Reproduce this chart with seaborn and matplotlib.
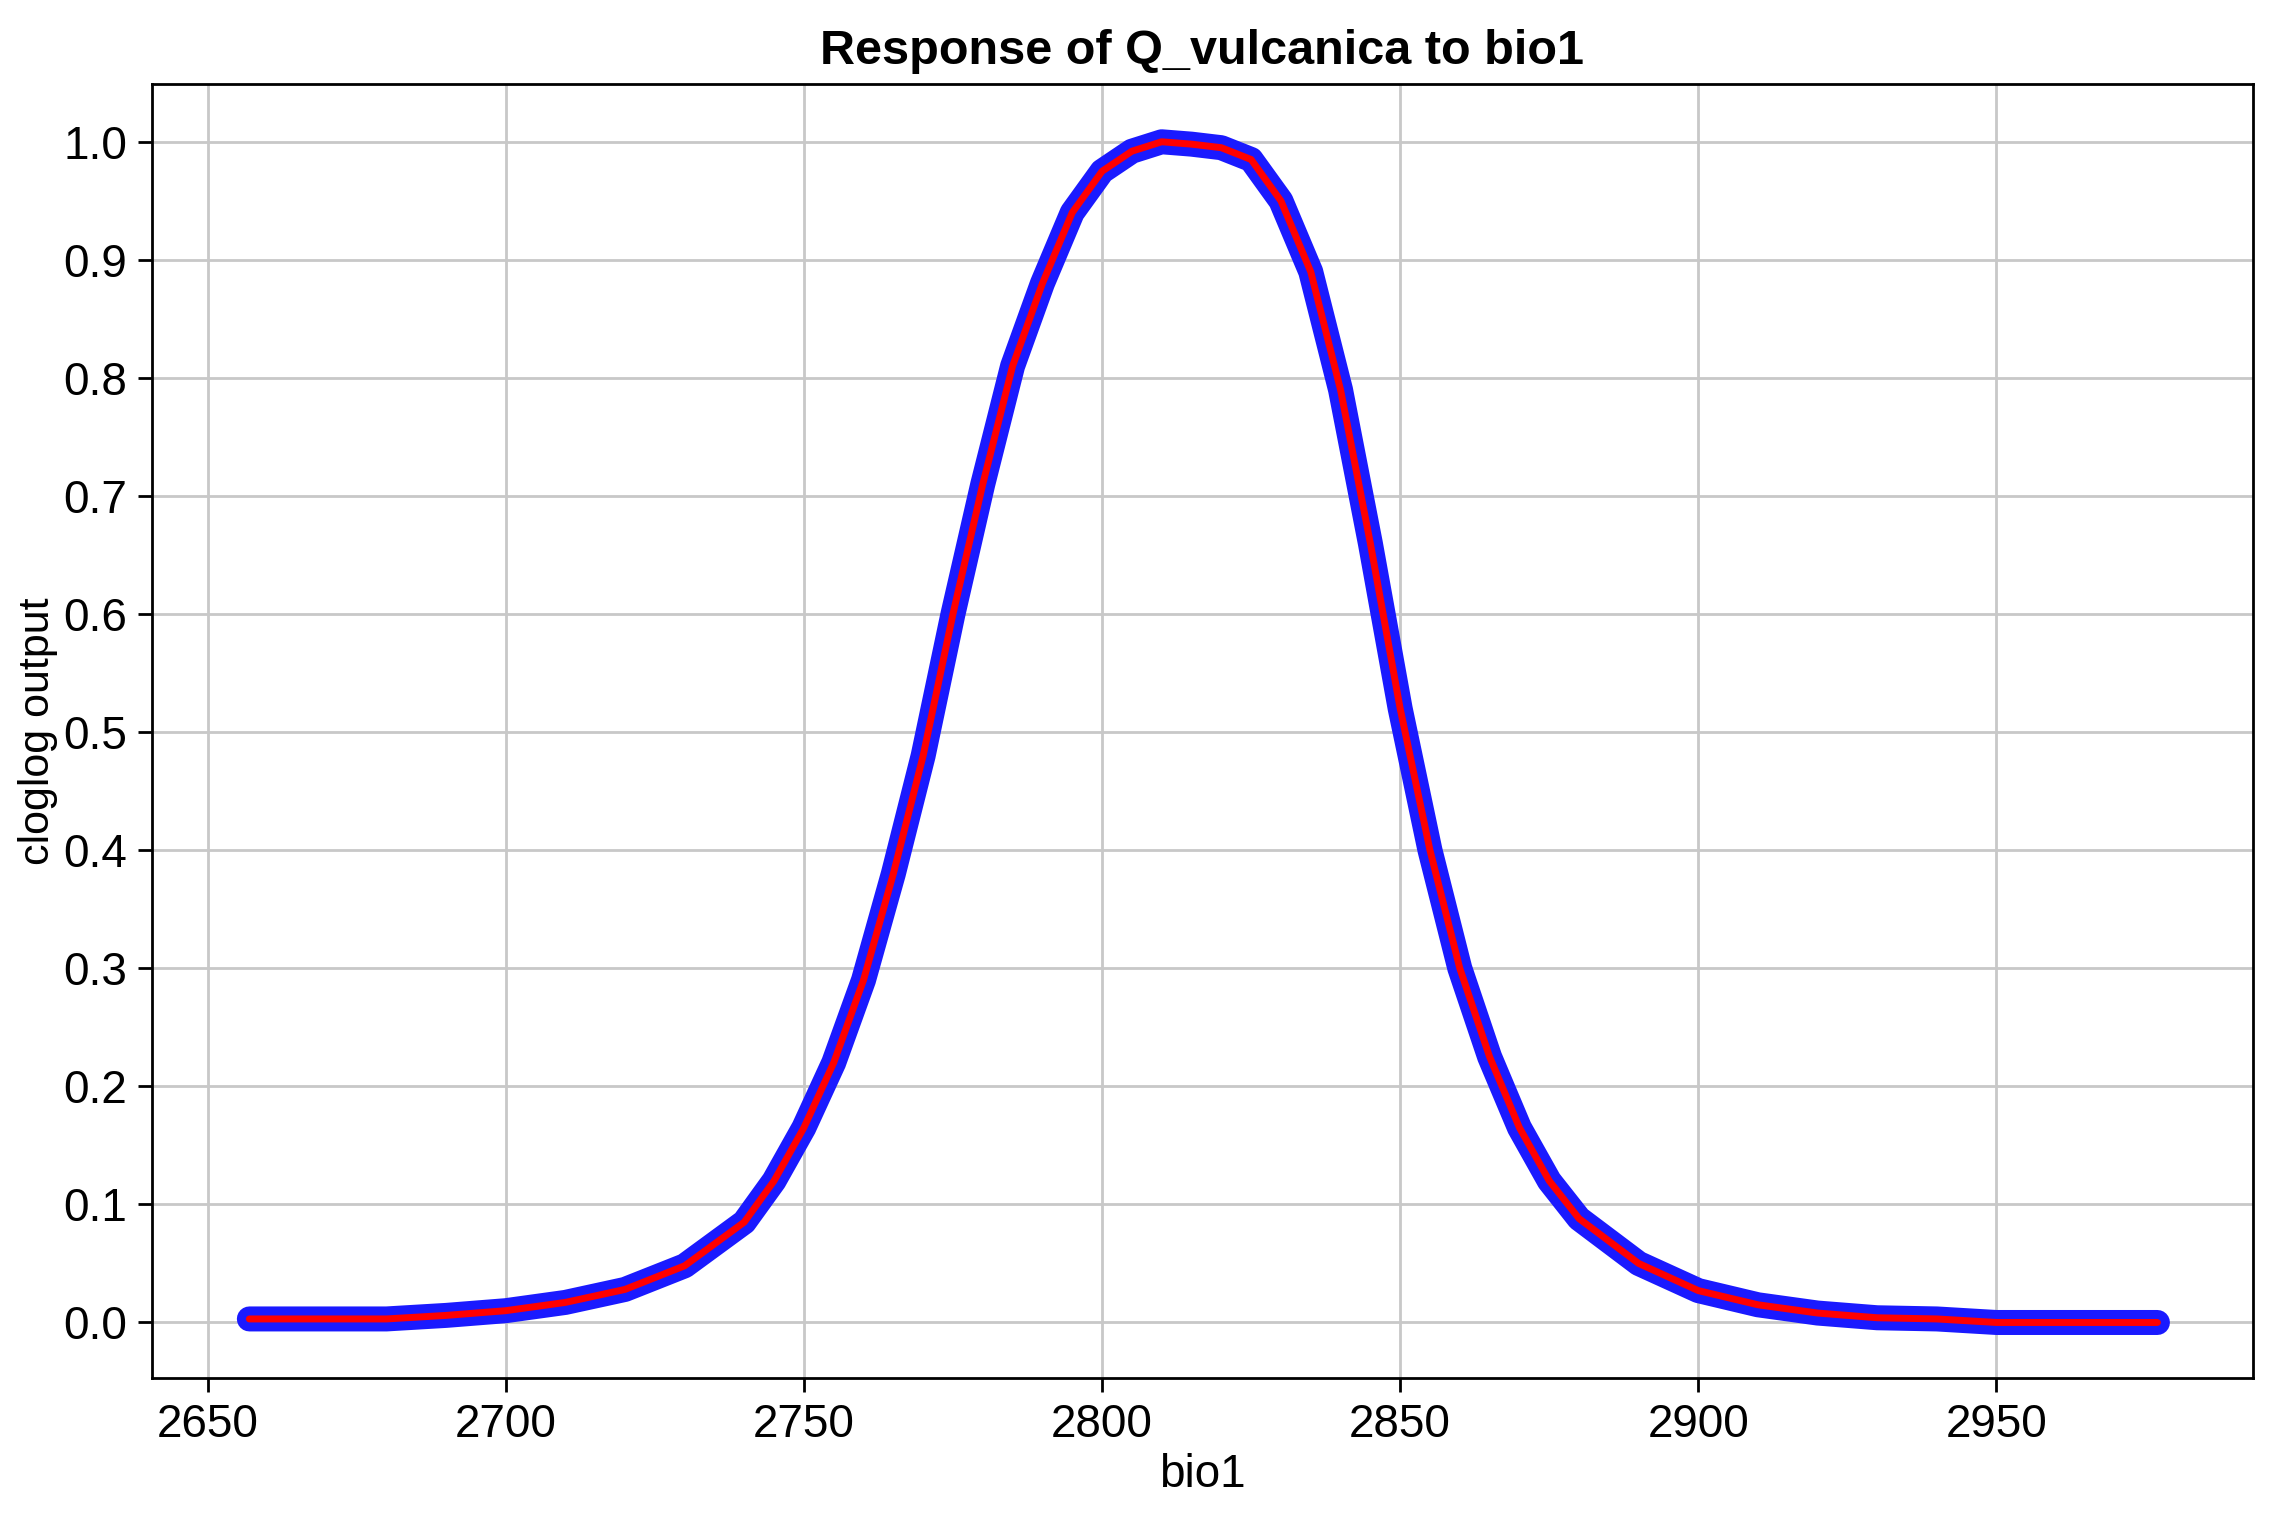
import matplotlib
matplotlib.use("Agg")
import matplotlib.pyplot as plt
import seaborn as sns
import pandas as pd

# values
bio1 = [2657, 2680, 2690, 2700, 2710, 2720, 2730, 2740, 2745, 2750, 2755, 2760, 2765, 2770,
        2775, 2780, 2785, 2790, 2795, 2800, 2805, 2810, 2815, 2820, 2825, 2830, 2835, 2840,
        2845, 2850, 2855, 2860, 2865, 2870, 2875, 2880, 2890, 2900, 2910, 2920, 2930, 2940,
        2950, 2960, 2977]
cloglog = [0.003, 0.003, 0.006, 0.010, 0.017, 0.028, 0.048, 0.085, 0.12, 0.165, 0.22, 0.29,
           0.38, 0.48, 0.60, 0.71, 0.81, 0.88, 0.94, 0.975, 0.992, 1.0, 0.998, 0.995, 0.985,
           0.95, 0.89, 0.79, 0.66, 0.52, 0.40, 0.30, 0.225, 0.165, 0.12, 0.088, 0.05, 0.027,
           0.015, 0.008, 0.004, 0.003, 0.0, 0.0, 0.0]

df = pd.DataFrame({"bio1": bio1, "out": cloglog})

sns.set_style("white")
plt.rcParams['font.family'] = ['Liberation Sans', 'DejaVu Sans']
plt.rcParams['text.color'] = 'black'
plt.rcParams['axes.labelcolor'] = 'black'
plt.rcParams['xtick.color'] = 'black'
plt.rcParams['ytick.color'] = 'black'

fig = plt.figure(figsize=(22.71, 15.26), dpi=100)
ax = fig.add_axes([0.067, 0.097, 0.925, 0.848])

sns.lineplot(data=df, x="bio1", y="out", ax=ax, color="#1a1aff", lw=18, solid_capstyle="round",
             solid_joinstyle="round")
sns.lineplot(data=df, x="bio1", y="out", ax=ax, color="#ff0000", lw=5, solid_joinstyle="round")

ax.set_xlim(2640.7, 2993)
ax.set_ylim(-0.047, 1.049)
ax.set_xticks([2650, 2700, 2750, 2800, 2850, 2900, 2950])
ax.set_yticks([i / 10 for i in range(11)])
ax.set_yticklabels([f"{i / 10:.1f}" for i in range(11)])
ax.grid(True, color="#c8c8c8", lw=2)
ax.set_axisbelow(True)
for s in ax.spines.values():
    s.set_color("black")
    s.set_linewidth(2)
ax.tick_params(axis="both", labelsize=33, length=10, width=2, direction="out",
               bottom=True, left=True, top=False, right=False, pad=8)
ax.set_xlabel("bio1", fontsize=33)
ax.set_ylabel("cloglog output", fontsize=31)
ax.set_title("Response of Q_vulcanica to bio1", fontsize=35, fontweight="bold", pad=14)

fig.savefig("out.png", dpi=100)
